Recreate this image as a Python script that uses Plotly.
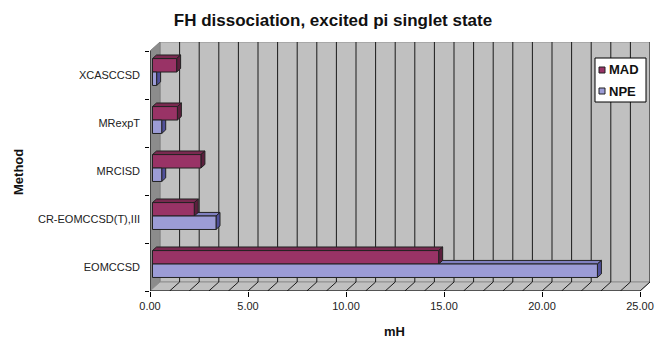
import plotly.graph_objects as go

# Data
methods = ["EOMCCSD", "CR-EOMCCSD(T),III", "MRCISD", "MRexpT", "XCASCCSD"]
series_names = ["MAD", "NPE"]
mad = [14.6, 2.13, 2.47, 1.27, 1.23]
npe = [22.7, 3.24, 0.47, 0.47, 0.21]
x_ticks = [0, 5, 10, 15, 20, 25]
x_tick_text = ["0.00", "5.00", "10.00", "15.00", "20.00", "25.00"]

# Canvas / plot-area metrics (px)
W, H = 656, 338
PL, PR, PT, PB = 150, 650, 42, 291

# 3-D box geometry (axis units)
XMAX = 25
DX = 0.51          # horizontal depth offset of the back wall
DY = 0.1875        # vertical depth offset of the back wall
N = len(methods)
Y0, Y1 = -0.5, N - 0.5
F = 0.25           # depth at which bar fronts sit
G = 0.40           # bar thickness (fraction of depth)
BAR_W = 0.28
pos = list(range(N))

MAD_FRONT, MAD_DARK, MAD_TOP = "#993366", "#5c1f3d", "#7a2950"
NPE_FRONT, NPE_DARK, NPE_TOP = "#9c9cd6", "#50509a", "#8080c0"
EDGE = "#222222"

shapes = []


def poly(pts, fill, line="#222222", width=1):
    d = "M " + " L ".join(f"{px},{py}" for px, py in pts) + " Z"
    shapes.append(dict(type="path", path=d, xref="x", yref="y", fillcolor=fill,
                       line=dict(color=line, width=width), layer="below"))


def seg(xa, ya, xb, yb, color="#000000", width=1):
    shapes.append(dict(type="line", x0=xa, y0=ya, x1=xb, y1=yb, xref="x", yref="y",
                       line=dict(color=color, width=width), layer="below"))


# walls
poly([(DX, Y0 + DY), (XMAX + DX, Y0 + DY), (XMAX + DX, Y1 + DY), (DX, Y1 + DY)], "#c0c0c0", "#909090")
poly([(0, Y0), (0, Y1), (DX, Y1 + DY), (DX, Y0 + DY)], "#8c8c8c", "#808080")
poly([(0, Y0), (XMAX, Y0), (XMAX + DX, Y0 + DY), (DX, Y0 + DY)], "#c0c0c0", "#909090")

# back-wall gridlines and floor tick diagonals
for k in range(1, XMAX + 1):
    seg(k + DX, Y0 + DY, k + DX, Y1 + DY, "#1a1a1a")
for k in range(1, XMAX + 1):
    seg(k, Y0, k + DX, Y0 + DY, "#1a1a1a")

# front axis edges
seg(0, Y0, XMAX, Y0, "#000000")
seg(0, Y0, 0, Y1, "#000000")

base = F * DX
gdx, gdy = G * DX, G * DY
dy_shift = F * DY


def bar_faces(values, offset, top_col, side_col):
    for yc, v in zip(pos, values):
        ya = yc + offset
        yb = ya + BAR_W
        xe = base + v
        # top face
        poly([(base, yb), (xe, yb), (xe + gdx, yb + gdy), (base + gdx, yb + gdy)], top_col, EDGE)
        # end face
        poly([(xe, ya), (xe, yb), (xe + gdx, yb + gdy), (xe + gdx, ya + gdy)], side_col, EDGE)


NPE_OFF = dy_shift - BAR_W + 0.015
MAD_OFF = NPE_OFF + BAR_W
bar_faces(npe, NPE_OFF, NPE_TOP, NPE_DARK)
bar_faces(mad, MAD_OFF, MAD_TOP, MAD_DARK)


def px_x(p):
    return (p - PL) / (PR - PL)


def px_y(p):
    return (PB - p) / (PB - PT)


# legend box drawn in paper space
annotations = []
shapes.append(dict(type="rect", xref="paper", yref="paper",
                   x0=px_x(595), x1=px_x(646), y0=px_y(102), y1=px_y(58),
                   fillcolor="white", line=dict(color="#000000", width=1), layer="above"))
for name, col, yc in zip(series_names, [MAD_FRONT, NPE_FRONT], [70, 91]):
    shapes.append(dict(type="rect", xref="paper", yref="paper",
                       x0=px_x(599), x1=px_x(605), y0=px_y(yc + 3), y1=px_y(yc - 3),
                       fillcolor=col, line=dict(color="#222222", width=1), layer="above"))
    annotations.append(dict(text=f"<b>{name}</b>", x=px_x(607), y=px_y(yc),
                            xref="paper", yref="paper", xanchor="left", yanchor="middle",
                            showarrow=False, font=dict(size=13, color="#111111")))

annotations += [
    dict(text="<b>mH</b>", x=px_x(394), y=px_y(331), xanchor="center", yanchor="middle",
         xref="paper", yref="paper", showarrow=False, font=dict(size=13, color="#111111")),
    dict(text="<b>Method</b>", x=px_x(18), y=px_y(172), xanchor="center", yanchor="middle",
         xref="paper", yref="paper", showarrow=False, textangle=-90,
         font=dict(size=13, color="#111111")),
]

fig = go.Figure()
fig.add_trace(go.Bar(name="MAD", y=pos, x=mad, base=base, orientation="h",
                     width=BAR_W, offset=MAD_OFF,
                     marker=dict(color=MAD_FRONT, line=dict(color=EDGE, width=1))))
fig.add_trace(go.Bar(name="NPE", y=pos, x=npe, base=base, orientation="h",
                     width=BAR_W, offset=NPE_OFF,
                     marker=dict(color=NPE_FRONT, line=dict(color=EDGE, width=1))))

fig.update_layout(
    width=W, height=H,
    margin=dict(l=PL, r=W - PR, t=PT, b=H - PB, autoexpand=False),
    paper_bgcolor="white", plot_bgcolor="white",
    barmode="overlay",
    showlegend=False,
    font=dict(family="Liberation Sans, Arial, sans-serif", color="#222222"),
    title=dict(text="<b>FH dissociation, excited pi singlet state</b>",
               x=333 / W, xanchor="center", y=1 - 20 / H, yanchor="middle",
               font=dict(size=17, color="#111111")),
    xaxis=dict(range=[0, XMAX + DX], showgrid=False, zeroline=False, showline=False,
               tickvals=x_ticks, ticktext=x_tick_text, ticks="outside", ticklen=5,
               tickcolor="#000000", tickfont=dict(size=11), automargin=False),
    yaxis=dict(range=[Y0, Y1 + DY], showgrid=False, zeroline=False, showline=False,
               tickvals=pos, ticktext=methods, ticks="", ticklabelstandoff=9,
               tickfont=dict(size=11), automargin=False,
               minor=dict(tickmode="linear", tick0=-0.5, dtick=1, ticks="outside",
                          ticklen=4, tickcolor="#000000")),
    annotations=annotations,
    shapes=shapes,
)
fig.update_traces(hoverinfo="skip")

fig.write_html("out.html")
